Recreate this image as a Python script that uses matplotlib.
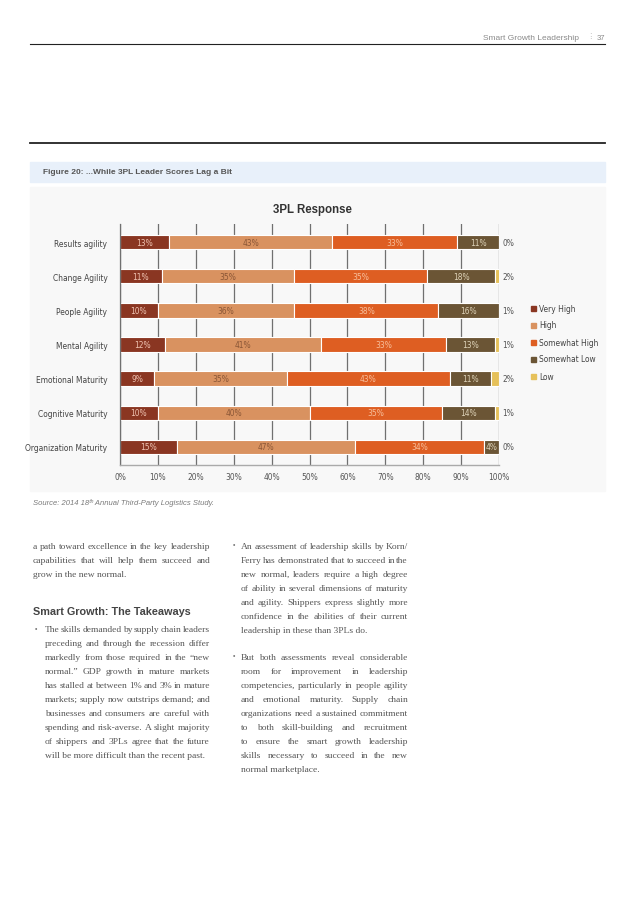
import matplotlib
matplotlib.use("Agg")
import matplotlib.pyplot as plt
from matplotlib.patches import Rectangle
from matplotlib.lines import Line2D

W, H = 638, 903

# chart data
categories = ["Results agility", "Change Agility", "People Agility", "Mental Agility",
              "Emotional Maturity", "Cognitive Maturity", "Organization Maturity"]
very_high = [13, 11, 10, 12, 9, 10, 15]
high = [43, 35, 36, 41, 35, 40, 47]
somewhat_high = [33, 35, 38, 33, 43, 35, 34]
somewhat_low = [11, 18, 16, 13, 11, 14, 4]
low = [0, 2, 1, 1, 2, 1, 0]
series_names = ["Very High", "High", "Somewhat High", "Somewhat Low", "Low"]
series_colors = ["#8a3622", "#d99260", "#de5e22", "#6b5535", "#e6c15a"]
label_colors = ["#efc3b2", "#8a5636", "#f7bf9c", "#ddd2b8", None]
x_ticks = list(range(0, 101, 10))

# page text
para_left = ["a path toward excellence in the key leadership",
             "capabilities that will help them succeed and",
             "grow in the new normal."]
bullet_left = ["The skills demanded by supply chain leaders",
               "preceding and through the recession differ",
               "markedly from those required in the \u201cnew",
               "normal.\u201d GDP growth in mature markets",
               "has stalled at between 1% and 3% in mature",
               "markets; supply now outstrips demand; and",
               "businesses and consumers are careful with",
               "spending and risk-averse. A slight majority",
               "of shippers and 3PLs agree that the future",
               "will be more difficult than the recent past."]
bullet_right1 = ["An assessment of leadership skills by Korn/",
                 "Ferry has demonstrated that to succeed in the",
                 "new normal, leaders require a high degree",
                 "of ability in several dimensions of maturity",
                 "and agility. Shippers express slightly more",
                 "confidence in the abilities of their current",
                 "leadership in these than 3PLs do."]
bullet_right2 = ["But both assessments reveal considerable",
                 "room for improvement in leadership",
                 "competencies, particularly in people agility",
                 "and emotional maturity. Supply chain",
                 "organizations need a sustained commitment",
                 "to both skill-building and recruitment",
                 "to ensure the smart growth leadership",
                 "skills necessary to succeed in the new",
                 "normal marketplace."]

SANS = ["Liberation Sans", "DejaVu Sans"]
NARROW = dict(family=["DejaVu Sans"], fontstretch="condensed")
SERIF = ["Liberation Serif", "DejaVu Serif"]


def fx(x):
    return x / W


def fy(y):
    return 1 - y / H


fig = plt.figure(figsize=(W / 100, H / 100), dpi=100)
fig.patch.set_facecolor("white")

# header
fig.text(fx(579), fy(38), "Smart Growth Leadership", ha="right", va="center",
         fontsize=6, color="#8a8a8a", family=SANS)
fig.text(fx(590), fy(38), "\u205d", ha="center", va="center", fontsize=6, color="#aaaaaa", family=SANS)
fig.text(fx(605), fy(38), "37", ha="right", va="center", fontsize=5.5, color="#8a8a8a", family=SANS)
fig.add_artist(Line2D([fx(30), fx(605)], [fy(45), fy(45)], color="#222222", lw=0.8))
fig.add_artist(Line2D([fx(30), fx(605)], [fy(144), fy(144)], color="#222222", lw=1.3))

# figure title band and chart panel
fig.patches.append(Rectangle((fx(30), fy(183)), fx(575), 20 / H, transform=fig.transFigure,
                             color="#e8f0fa", zorder=-5))
fig.patches.append(Rectangle((fx(30), fy(492)), fx(575), 304 / H, transform=fig.transFigure,
                             color="#f8f8f8", zorder=-5))
fig.text(fx(43), fy(173), "Figure 20: ...While 3PL Leader Scores Lag a Bit", ha="left", va="center",
         fontsize=6, fontweight="bold", color="#555555", family=SANS)
fig.text(fx(312), fy(210), "3PL Response", ha="center", va="center",
         fontsize=8.3, fontweight="bold", color="#333333", family=SANS)

ax = fig.add_axes([fx(120), fy(466), 379 / W, 241 / H])
ax.set_zorder(2)
ax.set_facecolor("none")

series = [very_high, high, somewhat_high, somewhat_low, low]
ypos = list(range(len(categories)))
left = [0] * len(categories)
for vals, name, col, lc in zip(series, series_names, series_colors, label_colors):
    bars = ax.barh(ypos, vals, left=left, height=0.42, color=col, edgecolor="white",
                   linewidth=0.8, zorder=2, label=name)
    if lc:
        ax.bar_label(bars, labels=[f"{v}%" if v else "" for v in vals], label_type="center",
                     color=lc, fontsize=6, **NARROW)
    left = [a + b for a, b in zip(left, vals)]

for i, v in enumerate(low):
    ax.annotate(f"{v}%", (100, i), xytext=(2.5, 0), textcoords="offset points",
                ha="left", va="center", fontsize=6, color="#555555", **NARROW)

ax.set_xlim(0, 100)
ax.set_ylim(6.53, -0.53)
ax.set_xticks(x_ticks)
ax.set_xticklabels([f"{t}%" for t in x_ticks], fontsize=6, color="#555555", **NARROW)
ax.set_yticks(ypos)
ax.set_yticklabels(categories, fontsize=6, color="#444444", **NARROW)
ax.tick_params(axis="x", length=0, pad=5)
ax.tick_params(axis="y", length=0, pad=9)
ax.grid(axis="x", color="#707070", lw=0.9, zorder=0)
ax.set_axisbelow(True)
for s in ["top", "right"]:
    ax.spines[s].set_visible(False)
ax.spines["left"].set_color("#707070")
ax.spines["left"].set_linewidth(0.9)
ax.spines["bottom"].set_color("#aaaaaa")
ax.spines["bottom"].set_linewidth(1.0)

# legend
for i, (name, col) in enumerate(zip(series_names, series_colors)):
    y = 309 + i * 17
    fig.patches.append(Rectangle((fx(531), fy(y + 2.5)), 5 / W, 5 / H, transform=fig.transFigure,
                                 color=col, zorder=3))
    fig.text(fx(539), fy(y), name, ha="left", va="center", fontsize=6, color="#444444", **NARROW)

fig.text(fx(33), fy(503), "Source: 2014 18\u1d57\u02b0 Annual Third-Party Logistics Study.", ha="left",
         va="center", fontsize=5.5, style="italic", color="#7a7a7a", family=SANS)

# body text, justified
renderer = fig.canvas.get_renderer()
BODY = dict(fontsize=6.8, color="#555555", family=SERIF, va="baseline", ha="left")


def draw_block(lines, x0, x1, y0, dy=14):
    for i, line in enumerate(lines):
        base = fy(y0 + i * dy + 3)
        words = line.split()
        if i == len(lines) - 1 or len(words) < 2:
            fig.text(fx(x0), base, line, **BODY)
            continue
        texts = [fig.text(0, base, w, **BODY) for w in words]
        widths = [t.get_window_extent(renderer).width for t in texts]
        gap = (x1 - x0 - sum(widths)) / (len(words) - 1)
        x = x0
        for t, w in zip(texts, widths):
            t.set_x(fx(x))
            x += w + gap


draw_block(para_left, 33, 210, 546)
fig.text(fx(33), fy(612), "Smart Growth: The Takeaways", ha="left", va="center",
         fontsize=7.8, fontweight="bold", color="#444444", family=SANS)
fig.text(fx(35), fy(629), "\u2022", ha="left", va="center", fontsize=5, color="#777777", family=SANS)
draw_block(bullet_left, 45, 210, 629)
fig.text(fx(233), fy(546), "\u2022", ha="left", va="center", fontsize=5, color="#777777", family=SANS)
draw_block(bullet_right1, 241, 408, 546)
fig.text(fx(233), fy(657), "\u2022", ha="left", va="center", fontsize=5, color="#777777", family=SANS)
draw_block(bullet_right2, 241, 408, 657)

fig.savefig("out.png", dpi=100)
